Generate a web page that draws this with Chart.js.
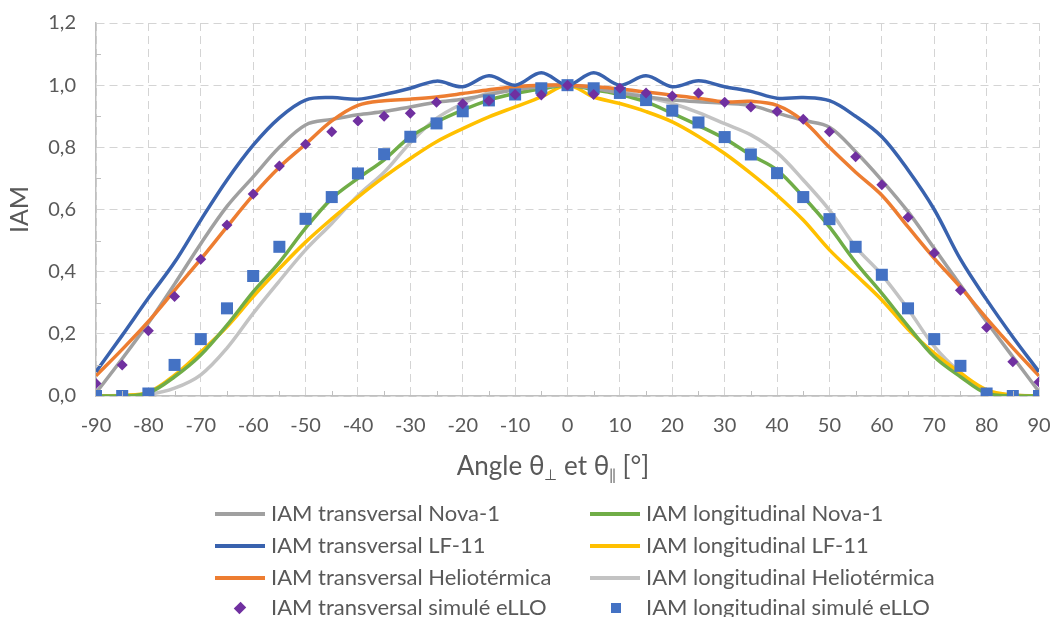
<!DOCTYPE html>
<html lang="fr">
<head>
<meta charset="UTF-8">
<title>IAM</title>
<script src="https://cdn.jsdelivr.net/npm/chart.js"></script>
<style>
  html, body { margin: 0; padding: 0; background: #fff; }
  body { font-family: Lato, sans-serif; color: #595959; }
  #wrap { position: relative; width: 1052px; height: 617px; overflow: hidden; }
  #c { position: absolute; left: 0; top: 0; }
  #xtitle { position: absolute; left: 0; width: 1106px; top: 450px; text-align: center; font-size: 26px; line-height: 30px; }
  #xtitle sub { font-size: 15px; vertical-align: -5px; }
  .item { position: absolute; height: 30px; line-height: 30px; font-size: 22px; white-space: nowrap; }
  .mk { position: absolute; left: 0; top: 0; width: 50px; height: 30px; }
  .mk i { position: absolute; display: block; }
  .txt { position: absolute; left: 56px; top: 0; }
</style>
</head>
<body>
<div id="wrap">
  <canvas id="c" width="1052" height="617"></canvas>
  <div id="xtitle">Angle θ<sub>⊥</sub> et θ<sub>‖</sub> [°]</div>
  <div id="legend"></div>
</div>
<script>
// angle en degres
const angles = [-90,-85,-80,-75,-70,-65,-60,-55,-50,-45,-40,-35,-30,-25,-20,-15,-10,-5,0,5,10,15,20,25,30,35,40,45,50,55,60,65,70,75,80,85,90];

const transNova = [0.01,0.12,0.235,0.36,0.49,0.61,0.705,0.80,0.872,0.89,0.905,0.915,0.93,0.945,0.955,0.97,0.985,0.995,1.0,0.99,0.975,0.963,0.952,0.947,0.942,0.935,0.91,0.887,0.865,0.786,0.694,0.593,0.475,0.357,0.239,0.126,0.014];
const transLF = [0.078,0.195,0.315,0.43,0.566,0.695,0.807,0.895,0.952,0.96,0.955,0.97,0.99,1.013,0.995,1.03,1.0,1.04,1.0,1.04,1.0,1.03,0.995,1.014,0.995,0.98,0.958,0.96,0.95,0.90,0.834,0.727,0.60,0.44,0.31,0.19,0.078];
const transHelio = [0.065,0.15,0.24,0.34,0.44,0.544,0.646,0.736,0.81,0.885,0.935,0.95,0.955,0.962,0.973,0.985,0.995,1.0,1.0,0.995,0.988,0.978,0.968,0.958,0.946,0.948,0.935,0.885,0.80,0.72,0.646,0.544,0.443,0.35,0.25,0.155,0.065];
const longNova = [0,0,0.01,0.062,0.132,0.228,0.335,0.43,0.54,0.635,0.70,0.76,0.834,0.882,0.92,0.952,0.973,0.988,1.0,0.985,0.97,0.946,0.909,0.87,0.828,0.775,0.727,0.641,0.544,0.43,0.33,0.225,0.126,0.062,0.008,0,0];
const longLF = [0,0.002,0.012,0.067,0.142,0.223,0.32,0.41,0.495,0.57,0.64,0.705,0.764,0.818,0.86,0.898,0.93,0.962,1.0,0.962,0.941,0.915,0.882,0.835,0.78,0.716,0.646,0.566,0.47,0.39,0.309,0.215,0.138,0.074,0.02,0.003,0];
const longHelio = [0,0.002,0.005,0.025,0.068,0.154,0.266,0.37,0.47,0.555,0.645,0.72,0.815,0.893,0.941,0.976,0.993,1.0,1.0,0.995,0.984,0.962,0.941,0.912,0.876,0.84,0.783,0.695,0.598,0.48,0.39,0.28,0.16,0.075,0.014,0.003,0];
const transSim = [0.04,0.10,0.21,0.32,0.44,0.55,0.65,0.74,0.81,0.85,0.885,0.90,0.91,0.945,0.94,0.95,0.97,0.968,1.0,0.97,0.99,0.975,0.965,0.975,0.945,0.93,0.915,0.89,0.85,0.77,0.68,0.575,0.46,0.34,0.22,0.11,0.045];
const longSim = [0,0,0.008,0.10,0.183,0.282,0.386,0.48,0.57,0.64,0.716,0.778,0.834,0.877,0.916,0.951,0.97,0.99,1.0,0.99,0.975,0.952,0.918,0.88,0.833,0.777,0.717,0.64,0.569,0.48,0.39,0.282,0.183,0.097,0.008,0,0];

const yTicks = [0,0.2,0.4,0.6,0.8,1.0,1.2];

const pts = arr => arr.map((v, i) => ({ x: angles[i], y: v }));

function line(label, arr, color, order) {
  return { label, data: pts(arr), borderColor: color, backgroundColor: color, borderWidth: 3.5,
           pointRadius: 0, tension: 0.35, fill: false, order, kind: 'line' };
}
function marks(label, arr, color, style, r) {
  return { label, data: pts(arr), borderColor: color, backgroundColor: color, borderWidth: 0,
           showLine: false, pointStyle: style, pointRadius: r, order: 0, kind: style };
}

const datasets = [
  line('IAM transversal Nova-1', transNova, '#A0A0A0', 2),
  line('IAM longitudinal Nova-1', longNova, '#70AD47', 2),
  line('IAM transversal LF-11', transLF, '#3962AE', 1),
  line('IAM longitudinal LF-11', longLF, '#FFC000', 2),
  line('IAM transversal Heliotérmica', transHelio, '#ED7D31', 1),
  line('IAM longitudinal Heliotérmica', longHelio, '#C3C3C3', 3),
  marks('IAM transversal simulé eLLO', transSim, '#7030A0', 'rectRot', 5.5),
  marks('IAM longitudinal simulé eLLO', longSim, '#4472C4', 'rect', 8.5)
];

// petites graduations secondaires
const minorTicks = {
  id: 'minorTicks',
  afterDraw(chart) {
    const { ctx, scales: { x, y } } = chart;
    ctx.save();
    ctx.strokeStyle = '#BFBFBF';
    ctx.lineWidth = 1;
    ctx.beginPath();
    for (let v = 0.1; v < 1.2; v += 0.2) {
      const py = Math.round(y.getPixelForValue(v)) + 0.5;
      ctx.moveTo(x.left, py); ctx.lineTo(x.left + 5, py);
    }
    for (let a = -85; a < 90; a += 10) {
      const px = Math.round(x.getPixelForValue(a)) + 0.5;
      ctx.moveTo(px, y.bottom); ctx.lineTo(px, y.bottom - 5);
    }
    ctx.stroke();
    ctx.restore();
  }
};

Chart.defaults.font.family = 'Lato, sans-serif';
Chart.defaults.color = '#595959';

new Chart(document.getElementById('c'), {
  type: 'line',
  data: { datasets },
  plugins: [minorTicks],
  options: {
    responsive: false,
    animation: false,
    layout: { padding: { top: 23, right: 13, left: 0, bottom: 0 } },
    plugins: { legend: { display: false }, tooltip: { enabled: false } },
    scales: {
      x: {
        type: 'linear', min: -90, max: 90,
        ticks: { stepSize: 10, font: { size: 20 }, padding: 0, color: '#595959' },
        grid: { color: '#D4D4D4', lineWidth: 1, drawTicks: true, tickLength: 18, tickColor: 'rgba(0,0,0,0)' },
        border: { color: '#BFBFBF', width: 1.5, dash: [8, 5] },
        afterFit: s => { s.height = 221; }
      },
      y: {
        min: 0, max: 1.2,
        afterBuildTicks: s => { s.ticks = yTicks.map(v => ({ value: v })); },
        ticks: { font: { size: 20 }, padding: 0, color: '#595959',
                 callback: v => v.toFixed(1).replace('.', ',') },
        grid: { color: '#D4D4D4', lineWidth: 1, drawTicks: true, tickLength: 20, tickColor: 'rgba(0,0,0,0)' },
        border: { color: '#BFBFBF', width: 1.5, dash: [8, 5] },
        title: { display: true, text: 'IAM', font: { size: 25 }, color: '#595959', padding: { top: 5, bottom: 0 } },
        afterFit: s => { s.width = 96; }
      }
    }
  }
});

// legende en deux colonnes
const legend = document.getElementById('legend');
const cols = [215, 590];
const rows = [498, 530, 562, 592];
datasets.forEach((d, i) => {
  const el = document.createElement('div');
  el.className = 'item';
  el.style.left = cols[i % 2] + 'px';
  el.style.top = rows[Math.floor(i / 2)] + 'px';
  let mk;
  if (d.kind === 'line') {
    mk = '<i style="left:0;top:14px;width:50px;height:4px;background:' + d.borderColor + '"></i>';
  } else if (d.kind === 'rectRot') {
    mk = '<i style="left:21px;top:12px;width:8px;height:8px;transform:rotate(45deg) scaleY(1.2);background:' + d.borderColor + '"></i>';
  } else {
    mk = '<i style="left:21px;top:11px;width:10px;height:10px;background:' + d.borderColor + '"></i>';
  }
  el.innerHTML = '<span class="mk">' + mk + '</span><span class="txt">' + d.label + '</span>';
  legend.appendChild(el);
});
</script>
</body>
</html>
